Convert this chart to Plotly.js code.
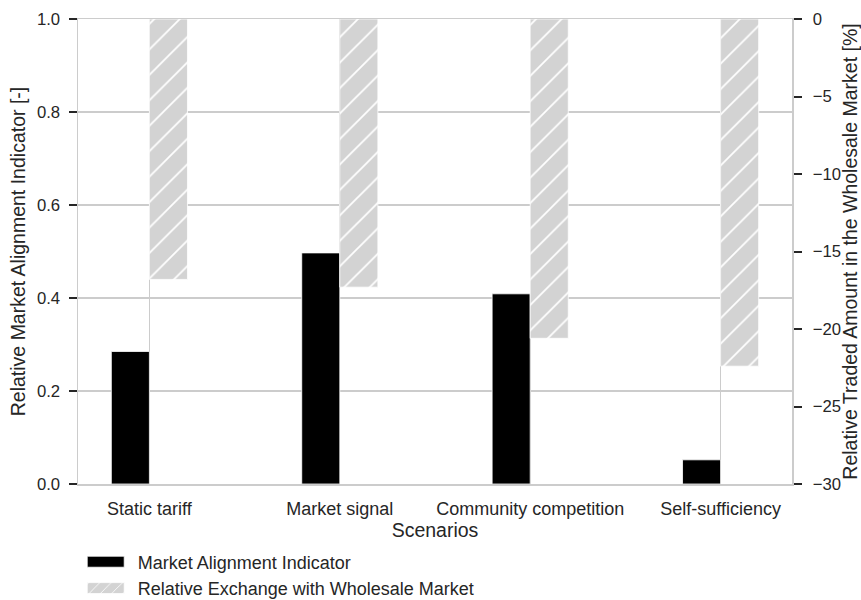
<!DOCTYPE html>
<html>
<head>
<meta charset="utf-8">
<script src="https://cdn.plot.ly/plotly-3.0.1.min.js"></script>
<style>
  html, body { margin: 0; padding: 0; background: #ffffff; }
  #chart { width: 861px; height: 600px; }
</style>
</head>
<body>
<div id="chart"></div>
<script>
// Scenario results
const scenarios = ["Static tariff", "Market signal", "Community competition", "Self-sufficiency"];
const alignmentIndicator = [0.285, 0.497, 0.409, 0.052];          // relative market alignment [-]
const wholesaleExchange = [-16.8, -17.3, -20.6, -22.4];            // relative traded amount [%]
const leftTicks = [0, 0.2, 0.4, 0.6, 0.8, 1.0];
const rightTicks = [0, -5, -10, -15, -20, -25, -30];

const FONT = "Arial, 'Liberation Sans', sans-serif";
const TEXT = "#262626";
const LINE = "#cccccc";
const XTICK_SIZE = 18;
const YTICK_SIZE = 16.7;
const TITLE_SIZE = 19.5;

const traces = [
  {
    type: "bar",
    name: "Market Alignment Indicator",
    legendgroup: "mai",
    x: scenarios,
    y: alignmentIndicator,
    width: 0.2,
    offset: -0.2,
    marker: { color: "#000000", line: { color: "#ffffff", width: 0.8 } },
    yaxis: "y",
    hoverinfo: "x+y"
  },
  {
    type: "bar",
    name: "Relative Exchange with Wholesale Market",
    legendgroup: "rex",
    x: scenarios,
    y: wholesaleExchange,
    width: 0.2,
    offset: 0,
    marker: {
      color: "#d3d3d3",
      line: { color: "#ffffff", width: 0.8 },
      pattern: { shape: "/", fgcolor: "#ffffff", bgcolor: "#d3d3d3", size: 18, solidity: 0.1 }
    },
    yaxis: "y2",
    hoverinfo: "x+y"
  }
];

const layout = {
  width: 861,
  height: 600,
  margin: { l: 78, r: 69, t: 19, b: 116, pad: 0, autoexpand: false },
  paper_bgcolor: "#ffffff",
  plot_bgcolor: "#ffffff",
  font: { family: FONT, size: XTICK_SIZE, color: TEXT },
  showlegend: true,
  legend: {
    x: -0.006, xanchor: "left",
    y: -0.128, yanchor: "top",
    orientation: "v",
    bgcolor: "rgba(0,0,0,0)",
    font: { family: FONT, size: XTICK_SIZE, color: TEXT },
    itemwidth: 54,
    tracegroupgap: 0
  },
  xaxis: {
    type: "category",
    range: [-0.375, 3.375],
    showgrid: true,
    gridcolor: LINE,
    gridwidth: 1,
    showline: true,
    linecolor: LINE,
    linewidth: 1.5,
    mirror: true,
    ticks: "",
    ticklabelstandoff: 8,
    tickfont: { family: FONT, size: XTICK_SIZE, color: TEXT },
    title: { text: "Scenarios", font: { family: FONT, size: TITLE_SIZE, color: TEXT }, standoff: 1 },
    zeroline: false,
    fixedrange: true
  },
  yaxis: {
    range: [0, 1.0],
    tickvals: leftTicks,
    ticktext: leftTicks.map(v => v.toFixed(1)),
    showgrid: true,
    gridcolor: LINE,
    gridwidth: 1.2,
    showline: true,
    linecolor: LINE,
    linewidth: 1.5,
    ticks: "outside",
    ticklen: 8,
    tickwidth: 2,
    tickcolor: TEXT,
    ticklabelstandoff: 5,
    tickfont: { family: FONT, size: YTICK_SIZE, color: TEXT },
    title: { text: "Relative Market Alignment Indicator [-]", font: { family: FONT, size: TITLE_SIZE, color: TEXT }, standoff: 6 },
    zeroline: false,
    fixedrange: true
  },
  yaxis2: {
    overlaying: "y",
    side: "right",
    range: [-30, 0],
    tickvals: rightTicks,
    showgrid: false,
    showline: true,
    linecolor: LINE,
    linewidth: 1.5,
    ticks: "outside",
    ticklen: 8,
    tickwidth: 2,
    tickcolor: TEXT,
    ticklabelstandoff: 8,
    tickfont: { family: FONT, size: YTICK_SIZE, color: TEXT },
    title: { text: "Relative Traded Amount in the Wholesale Market [%]", font: { family: FONT, size: TITLE_SIZE, color: TEXT }, standoff: 5 },
    zeroline: false,
    fixedrange: true
  },
  bargap: 0,
  barmode: "overlay"
};

Plotly.newPlot("chart", traces, layout, { displayModeBar: false, staticPlot: true }).then(function (gd) {
  // widen the legend swatches into flat bars
  gd.querySelectorAll(".legend .legendpoints path").forEach(function (p) {
    p.setAttribute("d", "M18.5,5.5H-18.5V-5.5H18.5Z");
  });
});
</script>
</body>
</html>
